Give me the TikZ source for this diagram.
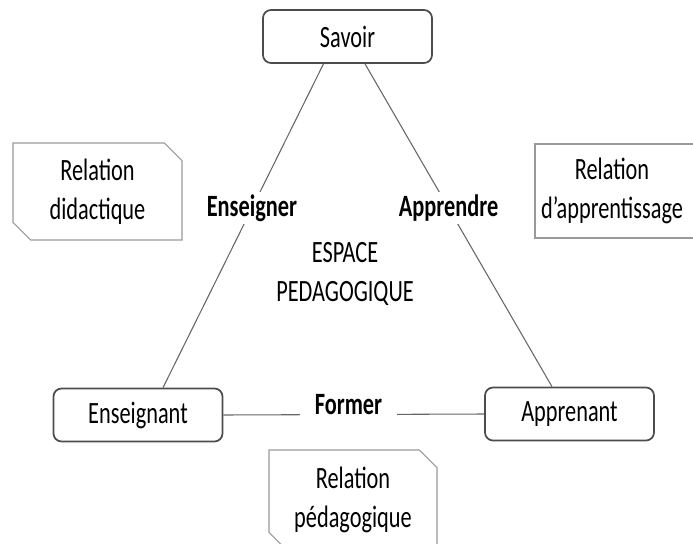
\documentclass[tikz,border=0pt]{standalone}
\usepackage{fontspec}
\setmainfont{Carlito}[FakeStretch=0.72]
\usetikzlibrary{shapes.misc}
\newcommand{\px}{0.75pt}
\newcommand{\diagfont}{\fontsize{23.25}{29.25}\selectfont}
\tikzset{
  pole/.style={ draw=black!70, line width=1.3pt, rounded corners=6pt, fill=white, minimum width=169*\px, minimum height=53*\px, inner sep=0pt }
}
\tikzset{
  relbox/.style={ draw=black!40, line width=0.8pt, chamfered rectangle, chamfered rectangle corners={north east,south west}, chamfered rectangle xsep=10pt, align=center, inner sep=0pt }
}
\tikzset{
  verb/.style={ fill=white, font=\diagfont\bfseries, inner xsep=11pt, inner ysep=2pt }
}
\tikzset{
  link/.style={ draw=black!60, line width=0.8pt }
}

\begin{document}
\begin{tikzpicture}[x=\px, y=-\px, font=\diagfont]
      \useasboundingbox (0, 0) rectangle (693, 543);
      \node[pole] (savoir) at (347.5, 36.5) {Savoir};
      \node[pole] (enseignant) at (138, 415) {Enseignant};
      \node[pole] (apprenant) at (569.5, 414) {Apprenant};
      \node[relbox, minimum width=169*\px, minimum height=97*\px] (didactique) at (97.5, 191.5) {Relation\\didactique};
      \node[relbox, minimum width=170*\px, minimum height=94*\px,
        label={[xshift=-8*\px, align=center]center:Relation\\d'apprentissage}] (apprentissage) at (620, 191) {};
      \node[relbox, minimum width=168*\px, minimum height=100*\px] (pedagogique) at (353, 500) {Relation\\pédagogique};
      \node[align=center] (espace) at (345, 274) {ESPACE\\PEDAGOGIQUE};
      \draw[link] ([xshift=-24*\px]savoir.south) -- node[verb, pos=0.446] {Enseigner} ([xshift=25*\px]enseignant.north);
      \draw[link] ([xshift=17.5*\px]savoir.south) -- node[verb, pos=0.447] {Apprendre} ([xshift=-17.5*\px]apprenant.north);
      \draw[link] (enseignant.east) -- node[verb, pos=0.48, yshift=10*\px] {Former} (apprenant.west);
    \end{tikzpicture}
\end{document}
